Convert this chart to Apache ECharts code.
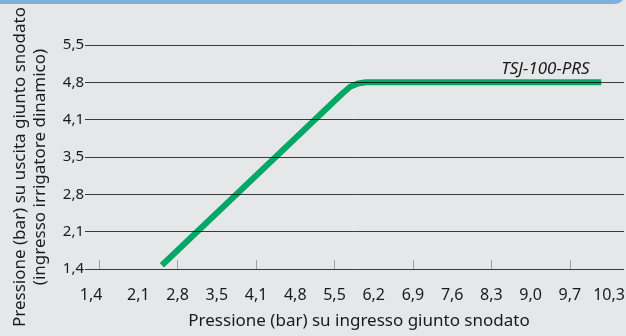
<!DOCTYPE html>
<html>
<head>
<meta charset="utf-8">
<script src="https://cdn.jsdelivr.net/npm/echarts@6/dist/echarts.min.js"></script>
<style>
  html, body { margin: 0; padding: 0; background: #e6e7e8; }
  #chart { width: 626px; height: 336px; }
</style>
</head>
<body>
<div id="chart"></div>
<script>
// Scale positions are in psi (20 … 150 inlet, 20 … 80 outlet); labels show bar.
const xTickPsi = [20, 30, 40, 50, 60, 70, 80, 90, 100, 110, 120, 130, 140, 150];
const xTickLabels = ['1,4', '2,1', '2,8', '3,5', '4,1', '4,8', '5,5', '6,2', '6,9', '7,6', '8,3', '9,0', '9,7', '10,3'];
const xMarkPsi = [20, 40, 60, 80, 100, 120, 140];
const yTickLabels = ['1,4', '2,1', '2,8', '3,5', '4,1', '4,8', '5,5'];

// Regulator curve: inlet pressure vs outlet pressure (psi)
const seriesName = 'TSJ-100-PRS';
const inletPsi = [36, 82, 84, 86, 88, 148];
const outletPsi = [21, 67, 68.8, 69.7, 70, 70];

const font = '"Noto Sans", sans-serif';
const ink = '#1a1a1a';

const chart = echarts.init(document.getElementById('chart'), null, { renderer: 'canvas' });
chart.setOption({
  backgroundColor: '#e6e7e8',
  animation: false,
  grid: { left: 85, right: 2, top: 45, bottom: 67, outerBoundsMode: 'none', containLabel: false },
  graphic: [
    {
      type: 'rect', left: 0, top: -8, z: 10,
      shape: { width: 626, height: 12, r: [0, 0, 12, 0] },
      style: { fill: '#7eb0de' }
    },
    {
      type: 'text', x: 30, y: 167, rotation: Math.PI / 2, z: 5,
      style: {
        text: 'Pressione (bar) su uscita giunto snodato\n(ingresso irrigatore dinamico)',
        align: 'center', verticalAlign: 'middle', lineHeight: 20,
        fontSize: 17, fontFamily: font, fill: ink
      }
    }
  ],
  xAxis: {
    type: 'value', min: 16.4, max: 153.8,
    name: 'Pressione (bar) su ingresso giunto snodato',
    nameLocation: 'middle', nameGap: 44,
    nameTextStyle: { fontSize: 17, fontFamily: font, color: ink, padding: [0, 0, 0, 9] },
    axisLine: { show: false },
    axisTick: {
      show: true, inside: true, length: 9, customValues: xMarkPsi,
      lineStyle: { color: '#a0a0a0', width: 1 }
    },
    axisLabel: {
      customValues: xTickPsi, margin: 18,
      fontSize: 16, fontFamily: font, color: ink,
      formatter: v => {
        const i = xTickPsi.indexOf(Math.round(v));
        return i === 0 ? '{first|' + xTickLabels[i] + '}' : xTickLabels[i];
      },
      rich: { first: { fontSize: 16, fontFamily: font, color: ink, padding: [0, 16, 0, 0] } }
    },
    splitLine: { show: false }
  },
  yAxis: {
    type: 'value', min: 20, max: 80, interval: 10, z: 10,
    axisLine: { show: false },
    axisTick: { show: false },
    axisLabel: {
      margin: 1, fontSize: 15, fontFamily: font, color: ink,
      formatter: v => yTickLabels[Math.round((v - 20) / 10)]
    },
    splitLine: { show: true, lineStyle: { color: 'rgba(0,0,0,0.75)', width: 1 } }
  },
  series: [{
    name: seriesName,
    type: 'line',
    z: 1,
    data: inletPsi.map((x, i) => [x, outletPsi[i]]),
    symbol: 'none',
    lineStyle: { color: '#00a865', width: 6, cap: 'butt', join: 'round' },
    endLabel: {
      show: true, formatter: seriesName, distance: 0, offset: [-100, -13],
      fontStyle: 'italic', fontSize: 17, color: ink, fontFamily: font
    }
  }]
});
</script>
</body>
</html>
